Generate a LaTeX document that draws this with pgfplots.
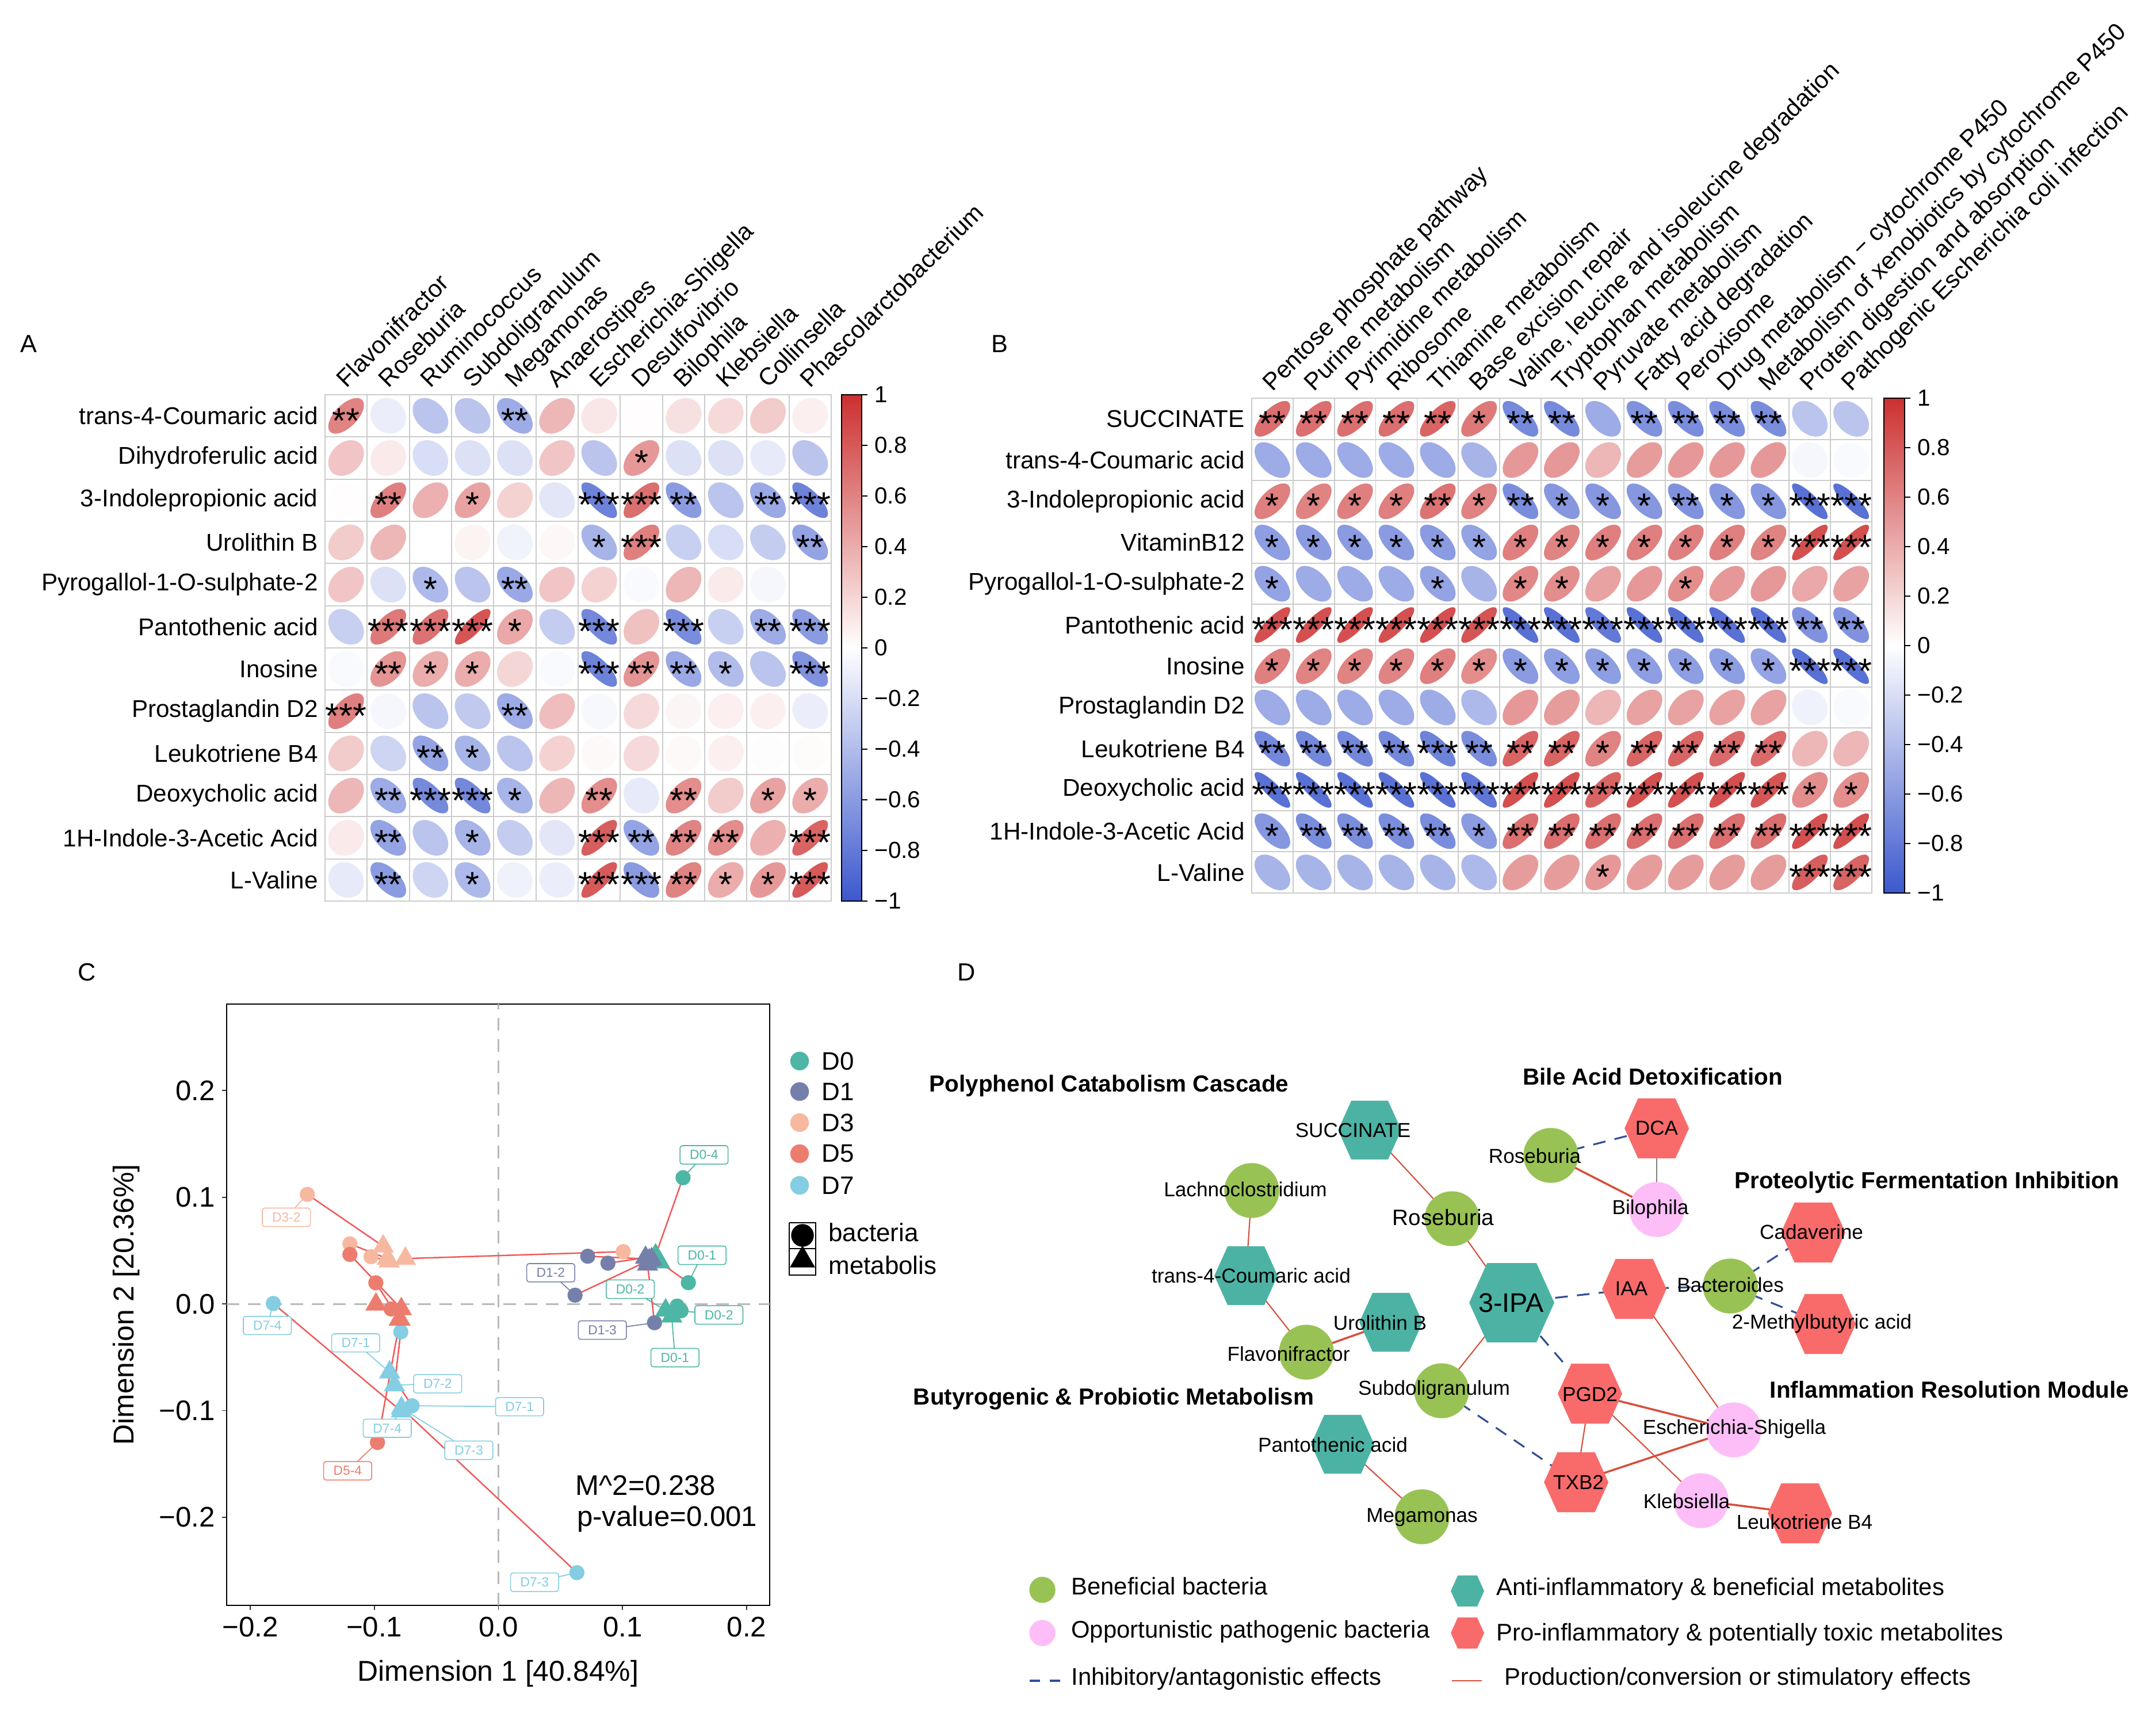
\documentclass[border=0pt]{standalone}
\usepackage{pgfplots}
\pgfplotsset{compat=1.18}
\usepackage{pgfplotstable}
\usepackage{fontspec}
\setmainfont{Liberation Sans}
\usetikzlibrary{plotmarks}

\definecolor{cGreen}{RGB}{153,194,85}
\definecolor{cTeal}{RGB}{76,179,164}
\definecolor{cRed}{RGB}{249,107,107}
\definecolor{cPink}{RGB}{253,190,248}
\definecolor{eRed}{RGB}{214,78,58}
\definecolor{eBlue}{RGB}{50,80,150}
\definecolor{gD0}{RGB}{77,182,164}
\definecolor{gD1}{RGB}{117,128,170}
\definecolor{gD3}{RGB}{247,184,160}
\definecolor{gD5}{RGB}{236,125,110}
\definecolor{gD7}{RGB}{132,205,226}
\definecolor{pRed}{RGB}{240,88,88}

\newcommand\lab{\fontsize{12}{14}\selectfont}
\newcommand\cbf{\fontsize{11.5}{13}\selectfont}
\newcommand\starf{\fontsize{17.5}{20}\selectfont}
\newcommand\nf{\fontsize{10}{12}\selectfont}
\newcommand\ttf{\fontsize{11.5}{13}\selectfont\bfseries}
\newcommand\lgf{\fontsize{11.9}{14}\selectfont}
\newcommand\starsof[1]{\ifcase#1\relax\or*\or**\or***\fi}

\pgfdeclareplotmark{ell}{%
  \pgfmathsetmacro\ea{3.1*sqrt(max(1+\corrval,0.01))/sqrt(2)}%
  \pgfmathsetmacro\eb{3.1*sqrt(max(1-\corrval,0.01))/sqrt(2)}%
  \pgfpathellipse{\pgfpointorigin}{\pgfpoint{\ea mm}{\ea mm}}{\pgfpoint{\eb mm}{-\eb mm}}%
  \pgfusepathqfill}
\pgfdeclareplotmark{hexa}{%
  \pgfpathmoveto{\pgfqpoint{\pgfplotmarksize}{0pt}}%
  \pgfpathlineto{\pgfqpoint{0.58\pgfplotmarksize}{0.93\pgfplotmarksize}}%
  \pgfpathlineto{\pgfqpoint{-0.58\pgfplotmarksize}{0.93\pgfplotmarksize}}%
  \pgfpathlineto{\pgfqpoint{-\pgfplotmarksize}{0pt}}%
  \pgfpathlineto{\pgfqpoint{-0.58\pgfplotmarksize}{-0.93\pgfplotmarksize}}%
  \pgfpathlineto{\pgfqpoint{0.58\pgfplotmarksize}{-0.93\pgfplotmarksize}}%
  \pgfpathclose\pgfusepathqfill}

\tikzset{cl/.style={draw=#1, text=#1, fill=white, rounded corners=1.2pt, line width=0.45pt,
  font=\fontsize{6.5}{7}\selectfont, inner xsep=1.7mm, inner ysep=0.8mm}}

\pgfplotsset{corr/.style={scale only axis,
  minor xtick={0.5,1.5,...,15.5}, minor ytick={0.5,1.5,...,12.5},
  grid=minor, minor grid style={draw=gray!40, line width=0.5pt},
  major tick length=0pt, minor tick length=0pt,
  axis line style={draw=gray!40, line width=0.5pt},
  xticklabel pos=right,
  xticklabel style={font=\lab, anchor=base west, inner sep=0pt, yshift=1mm, rotate=45},
  yticklabel style={font=\lab},
  colormap={cm}{rgb255=(60,88,205) rgb255=(255,255,255) rgb255=(204,48,48)},
  point meta min=-1, point meta max=1,
  colorbar,
  colorbar style={at={(parent axis.north east)}, anchor=north west,
    scale only axis, grid=none, minor xtick={}, minor ytick={}, xtick=\empty,
    ytick={-1,-0.8,-0.6,-0.4,-0.2,0,0.2,0.4,0.6,0.8,1},
    yticklabels={−1,−0.8,−0.6,−0.4,−0.2,0,0.2,0.4,0.6,0.8,1},
    yticklabel style={font=\cbf},
    ytick pos=right, yticklabel pos=right,
    tick align=outside, major tick length=1mm,
    tick style={black, line width=0.5pt},
    axis line style={black, line width=0.5pt}},
}}
\pgfplotsset{canvas/.style={at={(0mm,0mm)}, anchor=north west, scale only axis, width=374.8mm, height=298.4mm,
  xmin=0, xmax=3748, ymin=-2984, ymax=0, axis lines=none, clip=false}}
\pgfplotsset{panelC/.style={at={(39.4mm,-174.5mm)}, anchor=north west, scale only axis, width=94.4mm, height=104.5mm,
  xmin=-0.219, xmax=0.2185, ymin=-0.2825, ymax=0.281}}

\pgfplotstableread[row sep=\\]{x y r s\\
1 12 0.60 2\\ 2 12 -0.10 0\\ 3 12 -0.35 0\\ 4 12 -0.35 0\\ 5 12 -0.50 2\\ 6 12 0.35 0\\ 7 12 0.12 0\\ 8 12 0.01 0\\ 9 12 0.15 0\\ 10 12 0.18 0\\ 11 12 0.25 0\\ 12 12 0.08 0\\
1 11 0.28 0\\ 2 11 0.10 0\\ 3 11 -0.20 0\\ 4 11 -0.18 0\\ 5 11 -0.18 0\\ 6 11 0.28 0\\ 7 11 -0.35 0\\ 8 11 0.50 1\\ 9 11 -0.18 0\\ 10 11 -0.18 0\\ 11 11 -0.12 0\\ 12 11 -0.35 0\\
1 10 0.01 0\\ 2 10 0.62 2\\ 3 10 0.38 0\\ 4 10 0.45 1\\ 5 10 0.22 0\\ 6 10 -0.15 0\\ 7 10 -0.75 3\\ 8 10 0.70 3\\ 9 10 -0.60 2\\ 10 10 -0.35 0\\ 11 10 -0.52 2\\ 12 10 -0.75 3\\
1 9 0.25 0\\ 2 9 0.35 0\\ 3 9 0.00 0\\ 4 9 0.06 0\\ 5 9 -0.07 0\\ 6 9 0.04 0\\ 7 9 -0.45 1\\ 8 9 0.62 3\\ 9 9 -0.28 0\\ 10 9 -0.20 0\\ 11 9 -0.30 0\\ 12 9 -0.55 2\\
1 8 0.28 0\\ 2 8 -0.18 0\\ 3 8 -0.42 1\\ 4 8 -0.35 0\\ 5 8 -0.52 2\\ 6 8 0.28 0\\ 7 8 0.22 0\\ 8 8 -0.03 0\\ 9 8 0.35 0\\ 10 8 0.10 0\\ 11 8 -0.05 0\\ 12 8 0.00 0\\
1 7 -0.28 0\\ 2 7 0.65 3\\ 3 7 0.68 3\\ 4 7 0.82 3\\ 5 7 0.42 1\\ 6 7 -0.30 0\\ 7 7 -0.72 3\\ 8 7 0.30 0\\ 9 7 -0.68 3\\ 10 7 -0.28 0\\ 11 7 -0.50 2\\ 12 7 -0.60 3\\
1 6 -0.03 0\\ 2 6 0.52 2\\ 3 6 0.40 1\\ 4 6 0.40 1\\ 5 6 0.20 0\\ 6 6 -0.03 0\\ 7 6 -0.75 3\\ 8 6 0.52 2\\ 9 6 -0.52 2\\ 10 6 -0.40 1\\ 11 6 -0.35 0\\ 12 6 -0.65 3\\
1 5 0.62 3\\ 2 5 -0.05 0\\ 3 5 -0.35 0\\ 4 5 -0.32 0\\ 5 5 -0.50 2\\ 6 5 0.32 0\\ 7 5 -0.04 0\\ 8 5 0.18 0\\ 9 5 0.05 0\\ 10 5 0.08 0\\ 11 5 0.08 0\\ 12 5 -0.10 0\\
1 4 0.25 0\\ 2 4 -0.25 0\\ 3 4 -0.55 2\\ 4 4 -0.45 1\\ 5 4 -0.35 0\\ 6 4 0.22 0\\ 7 4 0.03 0\\ 8 4 0.18 0\\ 9 4 0.03 0\\ 10 4 0.08 0\\ 11 4 -0.01 0\\ 12 4 0.02 0\\
1 3 0.35 0\\ 2 3 -0.50 2\\ 3 3 -0.70 3\\ 4 3 -0.72 3\\ 5 3 -0.45 1\\ 6 3 0.35 0\\ 7 3 0.55 2\\ 8 3 -0.12 0\\ 9 3 0.55 2\\ 10 3 0.25 0\\ 11 3 0.45 1\\ 12 3 0.40 1\\
1 2 0.10 0\\ 2 2 -0.55 2\\ 3 2 -0.35 0\\ 4 2 -0.45 1\\ 5 2 -0.30 0\\ 6 2 -0.15 0\\ 7 2 0.78 3\\ 8 2 -0.55 2\\ 9 2 0.60 2\\ 10 2 0.55 2\\ 11 2 0.38 0\\ 12 2 0.75 3\\
1 1 -0.12 0\\ 2 1 -0.60 2\\ 3 1 -0.25 0\\ 4 1 -0.42 1\\ 5 1 -0.08 0\\ 6 1 -0.10 0\\ 7 1 0.80 3\\ 8 1 -0.60 3\\ 9 1 0.60 2\\ 10 1 0.40 1\\ 11 1 0.50 1\\ 12 1 0.80 3\\
}\tabA

\pgfplotstableread[row sep=\\]{x y r s\\
1 12 0.70 2\\ 2 12 0.70 2\\ 3 12 0.70 2\\ 4 12 0.70 2\\ 5 12 0.75 2\\ 6 12 0.65 1\\ 7 12 -0.70 2\\ 8 12 -0.70 2\\ 9 12 -0.50 0\\ 10 12 -0.65 2\\ 11 12 -0.68 2\\ 12 12 -0.68 2\\ 13 12 -0.68 2\\ 14 12 -0.35 0\\ 15 12 -0.35 0\\
1 11 -0.50 0\\ 2 11 -0.50 0\\ 3 11 -0.50 0\\ 4 11 -0.50 0\\ 5 11 -0.50 0\\ 6 11 -0.45 0\\ 7 11 0.50 0\\ 8 11 0.50 0\\ 9 11 0.35 0\\ 10 11 0.48 0\\ 11 11 0.50 0\\ 12 11 0.50 0\\ 13 11 0.50 0\\ 14 11 -0.05 0\\ 15 11 -0.03 0\\
1 10 0.62 1\\ 2 10 0.60 1\\ 3 10 0.62 1\\ 4 10 0.62 1\\ 5 10 0.68 2\\ 6 10 0.60 1\\ 7 10 -0.68 2\\ 8 10 -0.62 1\\ 9 10 -0.62 1\\ 10 10 -0.62 1\\ 11 10 -0.65 2\\ 12 10 -0.62 1\\ 13 10 -0.62 1\\ 14 10 -0.85 3\\ 15 10 -0.85 3\\
1 9 -0.58 1\\ 2 9 -0.60 1\\ 3 9 -0.60 1\\ 4 9 -0.60 1\\ 5 9 -0.60 1\\ 6 9 -0.55 1\\ 7 9 0.62 1\\ 8 9 0.60 1\\ 9 9 0.62 1\\ 10 9 0.62 1\\ 11 9 0.62 1\\ 12 9 0.62 1\\ 13 9 0.60 1\\ 14 9 0.85 3\\ 15 9 0.85 3\\
1 8 -0.55 1\\ 2 8 -0.50 0\\ 3 8 -0.50 0\\ 4 8 -0.50 0\\ 5 8 -0.55 1\\ 6 8 -0.45 0\\ 7 8 0.58 1\\ 8 8 0.55 1\\ 9 8 0.45 0\\ 10 8 0.50 0\\ 11 8 0.55 1\\ 12 8 0.50 0\\ 13 8 0.50 0\\ 14 8 0.42 0\\ 15 8 0.45 0\\
1 7 0.85 3\\ 2 7 0.85 3\\ 3 7 0.85 3\\ 4 7 0.85 3\\ 5 7 0.85 3\\ 6 7 0.82 3\\ 7 7 -0.85 3\\ 8 7 -0.85 3\\ 9 7 -0.80 3\\ 10 7 -0.85 3\\ 11 7 -0.85 3\\ 12 7 -0.85 3\\ 13 7 -0.85 3\\ 14 7 -0.65 2\\ 15 7 -0.65 2\\
1 6 0.62 1\\ 2 6 0.60 1\\ 3 6 0.60 1\\ 4 6 0.60 1\\ 5 6 0.62 1\\ 6 6 0.55 1\\ 7 6 -0.60 1\\ 8 6 -0.58 1\\ 9 6 -0.58 1\\ 10 6 -0.58 1\\ 11 6 -0.58 1\\ 12 6 -0.58 1\\ 13 6 -0.55 1\\ 14 6 -0.85 3\\ 15 6 -0.85 3\\
1 5 -0.50 0\\ 2 5 -0.50 0\\ 3 5 -0.50 0\\ 4 5 -0.50 0\\ 5 5 -0.50 0\\ 6 5 -0.42 0\\ 7 5 0.50 0\\ 8 5 0.48 0\\ 9 5 0.35 0\\ 10 5 0.45 0\\ 11 5 0.45 0\\ 12 5 0.45 0\\ 13 5 0.45 0\\ 14 5 -0.08 0\\ 15 5 -0.03 0\\
1 4 -0.72 2\\ 2 4 -0.72 2\\ 3 4 -0.72 2\\ 4 4 -0.72 2\\ 5 4 -0.75 3\\ 6 4 -0.68 2\\ 7 4 0.75 2\\ 8 4 0.75 2\\ 9 4 0.60 1\\ 10 4 0.75 2\\ 11 4 0.75 2\\ 12 4 0.72 2\\ 13 4 0.72 2\\ 14 4 0.35 0\\ 15 4 0.35 0\\
1 3 -0.85 3\\ 2 3 -0.85 3\\ 3 3 -0.85 3\\ 4 3 -0.85 3\\ 5 3 -0.85 3\\ 6 3 -0.82 3\\ 7 3 0.85 3\\ 8 3 0.85 3\\ 9 3 0.75 3\\ 10 3 0.85 3\\ 11 3 0.85 3\\ 12 3 0.85 3\\ 13 3 0.82 3\\ 14 3 0.55 1\\ 15 3 0.55 1\\
1 2 -0.62 1\\ 2 2 -0.68 2\\ 3 2 -0.68 2\\ 4 2 -0.68 2\\ 5 2 -0.68 2\\ 6 2 -0.60 1\\ 7 2 0.70 2\\ 8 2 0.70 2\\ 9 2 0.70 2\\ 10 2 0.70 2\\ 11 2 0.70 2\\ 12 2 0.70 2\\ 13 2 0.70 2\\ 14 2 0.85 3\\ 15 2 0.85 3\\
1 1 -0.45 0\\ 2 1 -0.45 0\\ 3 1 -0.45 0\\ 4 1 -0.45 0\\ 5 1 -0.45 0\\ 6 1 -0.42 0\\ 7 1 0.48 0\\ 8 1 0.48 0\\ 9 1 0.50 1\\ 10 1 0.48 0\\ 11 1 0.48 0\\ 12 1 0.48 0\\ 13 1 0.48 0\\ 14 1 0.78 3\\ 15 1 0.75 3\\
}\tabB

\begin{document}
\begin{tikzpicture}
\useasboundingbox (0,0) rectangle (374.8mm,-298.4mm);

% ---------------- canvas axis (panel D graphics, legends) ----------------
\begin{axis}[canvas]
\addplot[eRed, line width=0.6pt] coordinates {(2381,-1964) (2524,-2118)};
\addplot[eRed, line width=0.6pt] coordinates {(2524,-2118) (2628,-2264)};
\addplot[eRed, line width=0.6pt] coordinates {(2176,-2069) (2166,-2217)};
\addplot[eRed, line width=0.6pt] coordinates {(2166,-2217) (2271,-2350)};
\addplot[eRed, line width=0.6pt] coordinates {(2628,-2264) (2506,-2417)};
\addplot[eRed, line width=0.6pt] coordinates {(2841,-2240) (3014,-2485)};
\addplot[eRed, line width=0.6pt] coordinates {(2764,-2422) (2740,-2576)};
\addplot[eRed, line width=0.6pt] coordinates {(2764,-2422) (2957,-2608)};
\addplot[eRed, line width=0.6pt] coordinates {(2334,-2510) (2472,-2636)};
\addplot[eRed, line width=1pt] coordinates {(2271,-2350) (2418,-2298)};
\addplot[eRed, line width=1pt] coordinates {(2696,-2008) (2880,-2102)};
\addplot[eRed, line width=1pt] coordinates {(2764,-2422) (3014,-2485)};
\addplot[eRed, line width=1pt] coordinates {(2740,-2576) (3014,-2485)};
\addplot[eRed, line width=1pt] coordinates {(2957,-2608) (3129,-2630)};
\addplot[gray, line width=0.4pt] coordinates {(2880,-1961) (2880,-2102)};
\addplot[eBlue, line width=0.9pt, dash pattern=on 2.2mm off 1.6mm] coordinates {(2696,-2008) (2880,-1961)};
\addplot[eBlue, line width=0.9pt, dash pattern=on 2.2mm off 1.6mm] coordinates {(2628,-2264) (2841,-2240)};
\addplot[eBlue, line width=0.9pt, dash pattern=on 2.2mm off 1.6mm] coordinates {(2841,-2240) (3008,-2235)};
\addplot[eBlue, line width=0.9pt, dash pattern=on 2.2mm off 1.6mm] coordinates {(3008,-2235) (3152,-2142)};
\addplot[eBlue, line width=0.9pt, dash pattern=on 2.2mm off 1.6mm] coordinates {(3008,-2235) (3170,-2301)};
\addplot[eBlue, line width=0.9pt, dash pattern=on 2.2mm off 1.6mm] coordinates {(2628,-2264) (2764,-2422)};
\addplot[eBlue, line width=0.9pt, dash pattern=on 2.2mm off 1.6mm] coordinates {(2506,-2417) (2740,-2576)};
\addplot[only marks, mark=*, mark size=4.7mm, cGreen] coordinates {(2696,-2008) (2176,-2069) (2524,-2118) (2271,-2350) (3008,-2235) (2506,-2417) (2472,-2636)};
\addplot[only marks, mark=*, mark size=4.7mm, cPink] coordinates {(2880,-2102) (3014,-2485) (2957,-2608)};
\addplot[only marks, mark=hexa, mark size=5.5mm, cTeal] coordinates {(2381,-1964) (2166,-2217) (2418,-2298) (2334,-2510)};
\addplot[only marks, mark=hexa, mark size=7.4mm, cTeal] coordinates {(2628,-2264)};
\addplot[only marks, mark=hexa, mark size=5.6mm, cRed] coordinates {(2880,-1961) (2841,-2240) (3152,-2142) (3170,-2301) (2764,-2422) (2740,-2576) (3129,-2630)};
\addplot[only marks, mark=*, mark size=2.2mm, cGreen] coordinates {(1812,-2763)};
\addplot[only marks, mark=*, mark size=2.2mm, cPink] coordinates {(1812,-2838)};
\addplot[eBlue, line width=0.9pt, dash pattern=on 1.8mm off 1.7mm] coordinates {(1790,-2921) (1845,-2921)};
\addplot[only marks, mark=hexa, mark size=2.9mm, cTeal] coordinates {(2551,-2765)};
\addplot[only marks, mark=hexa, mark size=2.9mm, cRed] coordinates {(2551,-2838)};
\addplot[eRed, line width=0.6pt] coordinates {(2524,-2921) (2576,-2921)};
\addplot[only marks, mark=*, mark size=1.55mm, gD0] coordinates {(1390,-1844)};
\addplot[only marks, mark=*, mark size=1.55mm, gD1] coordinates {(1390,-1897)};
\addplot[only marks, mark=*, mark size=1.55mm, gD3] coordinates {(1390,-1951)};
\addplot[only marks, mark=*, mark size=1.55mm, gD5] coordinates {(1390,-2005)};
\addplot[only marks, mark=*, mark size=1.55mm, gD7] coordinates {(1390,-2060)};
\addplot[black, line width=0.6pt] coordinates {(1372,-2125) (1418,-2125) (1418,-2216) (1372,-2216) (1372,-2125)};
\addplot[black, line width=0.6pt] coordinates {(1372,-2170) (1418,-2170)};
\addplot[only marks, mark=*, mark size=1.9mm, black] coordinates {(1395,-2147)};
\addplot[only marks, mark=triangle*, mark size=2.4mm, black] coordinates {(1395,-2190)};
\end{axis}

% ---------------- canvas text layer ----------------
\begin{axis}[canvas]
\node[font=\nf] at (axis cs:2352,-1964) {SUCCINATE};
\node[font=\nf] at (axis cs:2668,-2009) {Roseburia};
\node[font=\nf] at (axis cs:2880,-1960) {DCA};
\node[font=\nf] at (axis cs:2165,-2067) {Lachnoclostridium};
\node[font=\fontsize{11}{13}\selectfont] at (axis cs:2509,-2116) {Roseburia};
\node[font=\nf] at (axis cs:2869,-2101) {Bilophila};
\node[font=\nf] at (axis cs:3149,-2141) {Cadaverine};
\node[font=\nf] at (axis cs:2175,-2217) {trans-4-Coumaric acid};
\node[font=\nf] at (axis cs:2836,-2239) {IAA};
\node[font=\nf] at (axis cs:3008,-2233) {Bacteroides};
\node[font=\fontsize{13.3}{15}\selectfont] at (axis cs:2627,-2264) {3-IPA};
\node[font=\nf] at (axis cs:2399,-2299) {Urolithin B};
\node[font=\nf] at (axis cs:3167,-2300) {2-Methylbutyric acid};
\node[font=\nf] at (axis cs:2240,-2353) {Flavonifractor};
\node[font=\nf] at (axis cs:2493,-2415) {Subdoligranulum};
\node[font=\nf] at (axis cs:2764,-2423) {PGD2};
\node[font=\nf] at (axis cs:3015,-2483) {Escherichia-Shigella};
\node[font=\nf] at (axis cs:2317,-2511) {Pantothenic acid};
\node[font=\nf] at (axis cs:2744,-2576) {TXB2};
\node[font=\nf] at (axis cs:2932,-2609) {Klebsiella};
\node[font=\nf] at (axis cs:3137,-2645) {Leukotriene B4};
\node[font=\nf] at (axis cs:2472,-2637) {Megamonas};
\node[font=\ttf] at (axis cs:1928,-1887) {Polyphenol Catabolism Cascade};
\node[font=\ttf] at (axis cs:2873,-1871) {Bile Acid Detoxification};
\node[font=\ttf] at (axis cs:3350,-2055) {Proteolytic Fermentation Inhibition};
\node[font=\ttf] at (axis cs:1936,-2431) {Butyrogenic \& Probiotic Metabolism};
\node[font=\ttf] at (axis cs:3389,-2415) {Inflammation Resolution Module};
\node[font=\lgf, anchor=west] at (axis cs:1850,-2757) {Beneficial bacteria};
\node[font=\lgf, anchor=west] at (axis cs:1850,-2836) {Opportunistic pathogenic bacteria};
\node[font=\lgf, anchor=west] at (axis cs:1850,-2918) {Inhibitory/antagonistic effects};
\node[font=\lgf, anchor=west] at (axis cs:2589,-2762) {Anti-inflammatory \& beneficial metabolites};
\node[font=\lgf, anchor=west] at (axis cs:2589,-2841) {Pro-inflammatory \& potentially toxic metabolites};
\node[font=\lgf, anchor=west] at (axis cs:2603,-2918) {Production/conversion or stimulatory effects};
\node[font=\fontsize{12.5}{14}\selectfont, anchor=west] at (axis cs:1416,-1844) {D0};
\node[font=\fontsize{12.5}{14}\selectfont, anchor=west] at (axis cs:1416,-1897) {D1};
\node[font=\fontsize{12.5}{14}\selectfont, anchor=west] at (axis cs:1416,-1951) {D3};
\node[font=\fontsize{12.5}{14}\selectfont, anchor=west] at (axis cs:1416,-2005) {D5};
\node[font=\fontsize{12.5}{14}\selectfont, anchor=west] at (axis cs:1416,-2060) {D7};
\node[font=\fontsize{12.5}{14}\selectfont, anchor=west] at (axis cs:1428,-2142) {bacteria};
\node[font=\fontsize{12.5}{14}\selectfont, anchor=west] at (axis cs:1428,-2199) {metabolis};
\node[font=\fontsize{12.3}{14}\selectfont] at (axis cs:50,-598) {A};
\node[font=\fontsize{12.3}{14}\selectfont] at (axis cs:1738,-598) {B};
\node[font=\fontsize{12.3}{14}\selectfont] at (axis cs:151,-1690) {C};
\node[font=\fontsize{12.3}{14}\selectfont] at (axis cs:1680,-1690) {D};
\end{axis}

% ---------------- panel A ----------------
\begin{axis}[corr, at={(56.5mm,-68.6mm)}, anchor=north west, width=88.0mm, height=88.0mm,
  xmin=0.5, xmax=12.5, ymin=0.5, ymax=12.5, xtick={1,...,12}, ytick={1,...,12},
  xticklabels={Flavonifractor,Roseburia,Ruminococcus,Subdoligranulum,Megamonas,Anaerostipes,Escherichia-Shigella,Desulfovibrio,Bilophila,Klebsiella,Collinsella,Phascolarctobacterium},
  yticklabels={L-Valine,1H-Indole-3-Acetic Acid,Deoxycholic acid,Leukotriene B4,Prostaglandin D2,Inosine,Pantothenic acid,Pyrogallol-1-O-sulphate-2,Urolithin B,3-Indolepropionic acid,Dihydroferulic acid,trans-4-Coumaric acid},
  colorbar style={xshift=-1.2mm, width=3.5mm, height=88mm}]
\addplot[scatter, only marks, mark=ell, point meta=explicit,
  visualization depends on={\thisrow{r}\as\corrval}] table[x=x,y=y,meta=r]{\tabA};
\addplot[only marks, mark=*, mark size=0pt, mark options={draw=none}, point meta=explicit symbolic,
  nodes near coords={\starsof{\pgfplotspointmeta}},
  nodes near coords style={font=\starf, anchor=base, inner sep=0pt, yshift=-2.95mm, text=black}]
  table[x=x,y=y,meta=s]{\tabA};
\end{axis}

% ---------------- panel B ----------------
\begin{axis}[corr, at={(217.6mm,-69.2mm)}, anchor=north west, width=107.8mm, height=86.0mm,
  xmin=0.5, xmax=15.5, ymin=0.5, ymax=12.5, xtick={1,...,15}, ytick={1,...,12},
  xticklabels={Pentose phosphate pathway,Purine metabolism,Pyrimidine metabolism,Ribosome,Thiamine metabolism,Base excision repair,{Valine, leucine and isoleucine degradation},Tryptophan metabolism,Pyruvate metabolism,Fatty acid degradation,Peroxisome,Drug metabolism − cytochrome P450,Metabolism of xenobiotics by cytochrome P450,Protein digestion and absorption,Pathogenic Escherichia coli infection},
  yticklabels={L-Valine,1H-Indole-3-Acetic Acid,Deoxycholic acid,Leukotriene B4,Prostaglandin D2,Inosine,Pantothenic acid,Pyrogallol-1-O-sulphate-2,VitaminB12,3-Indolepropionic acid,trans-4-Coumaric acid,SUCCINATE},
  colorbar style={xshift=-0.9mm, width=3.6mm, height=86mm}]
\addplot[scatter, only marks, mark=ell, point meta=explicit,
  visualization depends on={\thisrow{r}\as\corrval}] table[x=x,y=y,meta=r]{\tabB};
\addplot[only marks, mark=*, mark size=0pt, mark options={draw=none}, point meta=explicit symbolic,
  nodes near coords={\starsof{\pgfplotspointmeta}},
  nodes near coords style={font=\starf, anchor=base, inner sep=0pt, yshift=-2.95mm, text=black}]
  table[x=x,y=y,meta=s]{\tabB};
\end{axis}

% ---------------- panel C ----------------
\begin{axis}[panelC,
  xtick={-0.2,-0.1,0,0.1,0.2}, xticklabels={−0.2,−0.1,0.0,0.1,0.2},
  ytick={-0.2,-0.1,0,0.1,0.2}, yticklabels={−0.2,−0.1,0.0,0.1,0.2},
  xtick pos=left, ytick pos=left, tick align=outside, major tick length=0.8mm,
  tick style={black!80, line width=0.5pt},
  ticklabel style={font=\fontsize{14}{16}\selectfont},
  xlabel={Dimension 1 [40.84\%]}, ylabel={Dimension 2 [20.36\%]},
  label style={font=\fontsize{14.2}{16}\selectfont},
  xlabel style={at={(axis description cs:0.5,-0.1139)}, anchor=center},
  ylabel style={at={(axis description cs:-0.1843,0.5)}, anchor=center},
  axis line style={black, line width=0.5pt}]
\addplot[gray!55, line width=0.9pt, dash pattern=on 2.2mm off 1.5mm] coordinates {(0,-0.2825) (0,0.281)};
\addplot[gray!55, line width=0.9pt, dash pattern=on 2.2mm off 1.5mm] coordinates {(-0.219,0) (0.2185,0)};
\addplot[gD0, line width=0.5pt, unbounded coords=jump] coordinates {(0.1656,0.1397) (0.1487,0.1183) (nan,nan) (0.1640,0.0456) (0.153,0.0199) (nan,nan) (0.1062,0.0138) (0.1347,-0.006) (nan,nan) (0.1776,-0.0103) (0.1471,-0.0064) (nan,nan) (0.1422,-0.0503) (0.1396,-0.0116)};
\addplot[gD1, line width=0.5pt, unbounded coords=jump] coordinates {(0.0421,0.0292) (0.0617,0.0082) (nan,nan) (0.0837,-0.0245) (0.1257,-0.0176)};
\addplot[gD3, line width=0.5pt] coordinates {(-0.1709,0.0812) (-0.154,0.1027)};
\addplot[gD5, line width=0.5pt] coordinates {(-0.1215,-0.1564) (-0.0975,-0.1298)};
\addplot[gD7, line width=0.5pt, unbounded coords=jump] coordinates {(-0.1862,-0.0202) (-0.1814,0.0004) (nan,nan) (-0.115,-0.0365) (-0.0877,-0.064) (nan,nan) (-0.049,-0.0748) (-0.0838,-0.0761) (nan,nan) (0.017,-0.0963) (-0.0696,-0.0954) (nan,nan) (-0.0896,-0.1165) (-0.0782,-0.1006) (nan,nan) (-0.0239,-0.1371) (-0.0782,-0.0976) (nan,nan) (0.0291,-0.2608) (0.0632,-0.2518)};
\addplot[only marks, mark=*, mark size=1.25mm, gD0] coordinates {(0.1487,0.1183) (0.153,0.0199) (0.1471,-0.0064) (0.144,-0.002)};
\addplot[only marks, mark=*, mark size=1.25mm, gD1] coordinates {(0.0719,0.0447) (0.0882,0.0382) (0.0617,0.0082) (0.1257,-0.0176)};
\addplot[only marks, mark=*, mark size=1.25mm, gD3] coordinates {(-0.154,0.1027) (-0.1197,0.0563) (-0.1027,0.0443) (0.1005,0.049)};
\addplot[only marks, mark=*, mark size=1.25mm, gD5] coordinates {(-0.1197,0.0464) (-0.0988,0.0198) (-0.0975,-0.1298) (-0.0865,-0.0047)};
\addplot[only marks, mark=*, mark size=1.25mm, gD7] coordinates {(-0.1814,0.0004) (-0.0787,-0.0262) (-0.0696,-0.0954) (0.0632,-0.2518)};
\addplot[only marks, mark=triangle*, mark size=2.0mm, gD0] coordinates {(0.1266,0.0456) (0.1299,0.0391) (0.1347,-0.006) (0.1396,-0.0116)};
\addplot[only marks, mark=triangle*, mark size=2.0mm, gD1] coordinates {(0.1234,0.042) (0.1185,0.0434) (0.1215,0.041) (0.1201,0.037)};
\addplot[only marks, mark=triangle*, mark size=2.0mm, gD3] coordinates {(-0.0929,0.0541) (-0.0896,0.0425) (-0.088,0.040) (-0.075,0.0425)};
\addplot[only marks, mark=triangle*, mark size=2.0mm, gD5] coordinates {(-0.0783,-0.0047) (-0.080,-0.0146) (-0.0793,-0.0146) (-0.0987,-0.0004)};
\addplot[only marks, mark=triangle*, mark size=2.0mm, gD7] coordinates {(-0.0782,-0.1006) (-0.0838,-0.0761) (-0.0877,-0.064) (-0.0782,-0.0976)};
\addplot[pRed, line width=0.7pt, unbounded coords=jump] coordinates {
 (0.1487,0.1183) (0.1266,0.0456) (nan,nan) (0.153,0.0199) (0.1299,0.0391) (nan,nan)
 (0.1471,-0.0064) (0.1347,-0.006) (nan,nan) (0.144,-0.002) (0.1396,-0.0116) (nan,nan)
 (0.0719,0.0447) (0.1234,0.042) (nan,nan) (0.0882,0.0382) (0.1185,0.0434) (nan,nan)
 (0.0617,0.0082) (0.1215,0.041) (nan,nan) (0.1257,-0.0176) (0.1201,0.037) (nan,nan)
 (-0.154,0.1027) (-0.0929,0.0541) (nan,nan) (-0.1197,0.0563) (-0.0896,0.0425) (nan,nan)
 (-0.1027,0.0443) (-0.088,0.040) (nan,nan) (0.1005,0.049) (-0.075,0.0425) (nan,nan)
 (-0.1197,0.0464) (-0.0783,-0.0047) (nan,nan) (-0.0988,0.0198) (-0.080,-0.0146) (nan,nan)
 (-0.0975,-0.1298) (-0.0793,-0.0146) (nan,nan) (-0.0865,-0.0047) (-0.0987,-0.0004) (nan,nan)
 (-0.1814,0.0004) (-0.0782,-0.1006) (nan,nan) (-0.0787,-0.0262) (-0.0838,-0.0761) (nan,nan)
 (-0.0696,-0.0954) (-0.0877,-0.064) (nan,nan) (0.0632,-0.2518) (-0.0782,-0.0976)};
\end{axis}

% ---------------- panel C text layer ----------------
\begin{axis}[panelC, hide axis, clip=false]
\node[cl=gD0] at (axis cs:0.1656,0.1397) {D0-4};
\node[cl=gD0] at (axis cs:0.1640,0.0456) {D0-1};
\node[cl=gD0] at (axis cs:0.1062,0.0138) {D0-2};
\node[cl=gD0] at (axis cs:0.1776,-0.0103) {D0-2};
\node[cl=gD0] at (axis cs:0.1422,-0.0503) {D0-1};
\node[cl=gD1] at (axis cs:0.0421,0.0292) {D1-2};
\node[cl=gD1] at (axis cs:0.0837,-0.0245) {D1-3};
\node[cl=gD3] at (axis cs:-0.1709,0.0812) {D3-2};
\node[cl=gD5] at (axis cs:-0.1215,-0.1564) {D5-4};
\node[cl=gD7] at (axis cs:-0.1862,-0.0202) {D7-4};
\node[cl=gD7] at (axis cs:-0.115,-0.0365) {D7-1};
\node[cl=gD7] at (axis cs:-0.049,-0.0748) {D7-2};
\node[cl=gD7] at (axis cs:0.017,-0.0963) {D7-1};
\node[cl=gD7] at (axis cs:-0.0896,-0.1165) {D7-4};
\node[cl=gD7] at (axis cs:-0.0239,-0.1371) {D7-3};
\node[cl=gD7] at (axis cs:0.0291,-0.2608) {D7-3};
\node[font=\fontsize{14}{16}\selectfont, anchor=west] at (axis cs:0.0565,-0.170) {M\textasciicircum 2=0.238};
\node[font=\fontsize{14}{16}\selectfont, anchor=west] at (axis cs:0.0575,-0.2016) {p-value=0.001};
\end{axis}
\end{tikzpicture}
\end{document}
